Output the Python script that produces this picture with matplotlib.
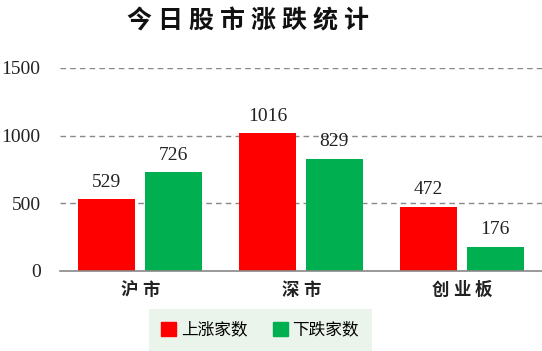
import numpy as np
import matplotlib
matplotlib.use("Agg")
import matplotlib.pyplot as plt
from matplotlib.patches import Patch

plt.rcParams['font.family'] = ['Liberation Serif', 'Noto Sans CJK SC', 'DejaVu Sans']

# data
markets = ['沪市', '深市', '创业板']
up_counts = [529, 1016, 472]
down_counts = [726, 829, 176]
series_names = ['上涨家数', '下跌家数']
title = '今日股市涨跌统计'

red = '#ff0000'
green = '#00b050'

fig = plt.figure(figsize=(5.42, 3.51), dpi=100)
ax = fig.add_axes([60 / 542, 1 - 270.5 / 351, 482 / 542, (270.5 - 68) / 351])

x = np.arange(len(markets))
w = 0.355
off = 0.208
b1 = ax.bar(x - off, up_counts, w, color=red)
b2 = ax.bar(x + off, down_counts, w, color=green)
ax.bar_label(b1, padding=6, fontsize=14, color='#222222')
ax.bar_label(b2, padding=6, fontsize=14, color='#222222')

ax.set_xlim(-0.5, 2.5)
ax.set_ylim(0, 1500)
ax.set_yticks([0, 500, 1000, 1500])
ax.tick_params(axis='y', length=0, labelsize=14, pad=14, labelcolor='#222222')
ax.set_xticks(x)
ax.set_xticklabels([])
ax.tick_params(axis='x', length=0)
for s in ['top', 'right', 'left']:
    ax.spines[s].set_visible(False)
ax.spines['bottom'].set_color('#888888')
ax.spines['bottom'].set_linewidth(1.2)
for v in [500, 1000, 1500]:
    ax.axhline(v, color='#888888', linestyle=(0, (4, 3)), linewidth=1, zorder=0)

# category names with wide letter spacing
for xi, name in zip(x, markets):
    n = len(name)
    for k, ch in enumerate(name):
        ax.text(xi + (k - (n - 1) / 2) * 0.135, -0.10, ch, transform=ax.get_xaxis_transform(),
                ha='center', va='center', fontsize=12.5, fontweight='bold', color='#222222')

# spaced title
for k, ch in enumerate(title):
    fig.text((127 + 12 + k * 31) / 542, 1 - 21 / 351, ch, ha='center', va='center',
             fontsize=18, fontweight='bold', color='#111111')

handles = [Patch(color=red), Patch(color=green)]
leg = fig.legend(handles, series_names, loc='center', bbox_to_anchor=(260 / 542, 1 - 330 / 351),
                 ncol=2, frameon=True, fontsize=12, handlelength=0.9, handleheight=0.9,
                 handletextpad=0.3, columnspacing=1.5, borderpad=0.45)
leg.get_frame().set_facecolor('#e6f2e6')
leg.get_frame().set_edgecolor('none')
leg.get_frame().set_boxstyle('square', pad=0.3)

fig.savefig('out.png', dpi=100)
